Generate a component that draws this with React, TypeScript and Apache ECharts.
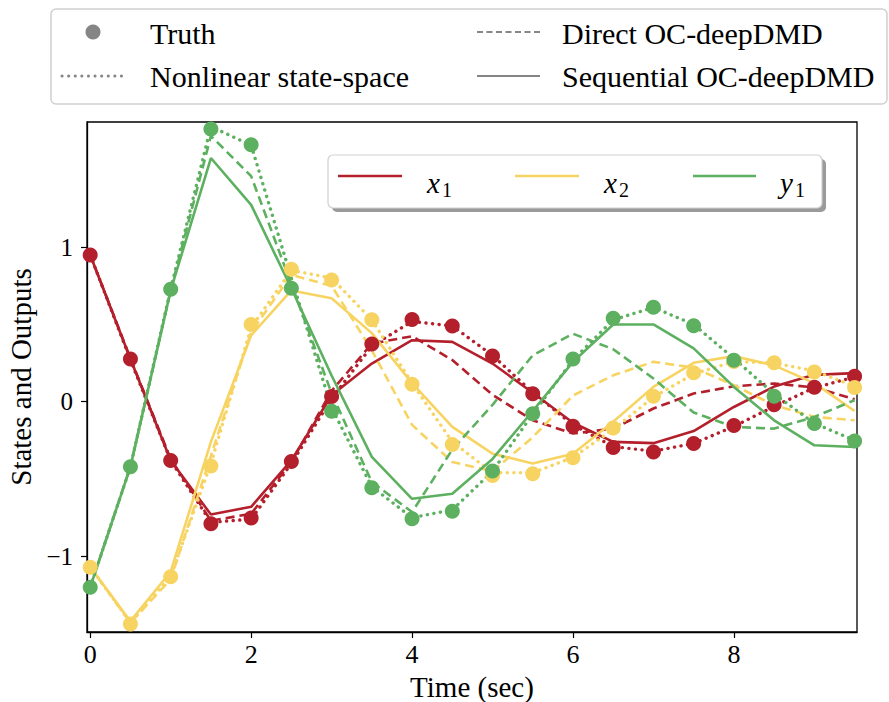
import React, { useEffect, useRef } from "react";
import * as echarts from "echarts";

const timeSec = [0, 0.5, 1, 1.5, 2, 2.5, 3, 3.5, 4, 4.5, 5, 5.5, 6, 6.5, 7, 7.5, 8, 8.5, 9, 9.5];

const x1Truth = [0.95, 0.276, -0.38, -0.79, -0.753, -0.386, 0.034, 0.373, 0.532, 0.49, 0.296, 0.052, -0.158, -0.296, -0.325, -0.271, -0.154, -0.02, 0.093, 0.165];
const x1Nonlinear = [0.95, 0.27, -0.38, -0.78, -0.76, -0.4, 0.02, 0.36, 0.52, 0.49, 0.3, 0.06, -0.15, -0.29, -0.32, -0.27, -0.16, -0.03, 0.09, 0.16];
const x1Direct = [0.95, 0.28, -0.37, -0.77, -0.725, -0.39, 0.07, 0.376, 0.424, 0.27, 0.045, -0.12, -0.206, -0.174, -0.044, 0.053, 0.1, 0.118, 0.092, 0.016];
const x1Sequential = [0.95, 0.276, -0.38, -0.73, -0.68, -0.38, 0.042, 0.247, 0.398, 0.387, 0.247, 0.058, -0.136, -0.26, -0.268, -0.19, -0.034, 0.098, 0.174, 0.185];

const x2Truth = [-1.071, -1.438, -1.132, -0.416, 0.5, 0.857, 0.788, 0.53, 0.113, -0.276, -0.477, -0.466, -0.362, -0.17, 0.036, 0.187, 0.26, 0.252, 0.193, 0.092];
const x2Nonlinear = [-1.07, -1.43, -1.13, -0.4, 0.48, 0.85, 0.8, 0.53, 0.12, -0.26, -0.46, -0.46, -0.36, -0.18, 0.03, 0.18, 0.26, 0.25, 0.2, 0.1];
const x2Direct = [-1.07, -1.43, -1.15, -0.35, 0.45, 0.82, 0.75, 0.333, -0.15, -0.39, -0.45, -0.23, 0.04, 0.171, 0.258, 0.22, 0.107, -0.023, -0.098, -0.12];
const x2Sequential = [-1.07, -1.42, -1.1, -0.26, 0.43, 0.72, 0.67, 0.444, 0.12, -0.163, -0.336, -0.4, -0.336, -0.13, 0.096, 0.252, 0.295, 0.235, 0.12, -0.06];

const y1Truth = [-1.2, -0.42, 0.728, 1.765, 1.663, 0.734, -0.062, -0.557, -0.757, -0.708, -0.449, -0.077, 0.276, 0.54, 0.611, 0.492, 0.269, 0.036, -0.141, -0.254];
const y1Nonlinear = [-1.2, -0.42, 0.73, 1.78, 1.66, 0.8, -0.04, -0.55, -0.75, -0.7, -0.45, -0.08, 0.27, 0.53, 0.61, 0.5, 0.28, 0.05, -0.14, -0.25];
const y1Direct = [-1.2, -0.42, 0.72, 1.72, 1.46, 0.76, 0.055, -0.52, -0.714, -0.31, -0.02, 0.3, 0.44, 0.34, 0.15, -0.07, -0.163, -0.174, -0.098, 0.01];
const y1Sequential = [-1.2, -0.42, 0.72, 1.577, 1.274, 0.734, 0.17, -0.357, -0.628, -0.595, -0.37, -0.06, 0.258, 0.5, 0.5, 0.345, 0.096, -0.12, -0.282, -0.293];

const xTicks = [0, 2, 4, 6, 8];
const yTicks = [-1, 0, 1];

const RED = "#b41f2c";
const YELLOW = "#f7d462";
const GREEN = "#5cb05f";
const GRAY = "#858585";
const SERIF = "'Liberation Serif', 'Times New Roman', serif";

const pair = (ys: number[]) => ys.map((v, i) => [timeSec[i], v]);

function lineSeries(name: string, ys: number[], color: string, kind: "solid" | "dashed" | "dotted") {
  const style: any = { color, width: 2.6 };
  if (kind === "dashed") style.type = [9, 5];
  if (kind === "dotted") {
    style.type = [0.1, 6.5];
    style.cap = "round";
    style.width = 3.4;
  }
  return {
    name,
    type: "line",
    data: pair(ys),
    symbol: "none",
    lineStyle: style,
    clip: true,
    z: 2,
  };
}

function truthSeries(name: string, ys: number[], color: string) {
  return {
    name,
    type: "scatter",
    data: pair(ys),
    symbol: "circle",
    symbolSize: 15,
    itemStyle: { color, opacity: 1 },
    clip: true,
    z: 3,
  };
}

export default function App() {
  const ref = useRef<HTMLDivElement>(null);
  useEffect(() => {
    if (!ref.current) return;
    const chart = echarts.init(ref.current, undefined, { renderer: "svg" });
    const textBase = { fontFamily: SERIF, fill: "#000" };
    const option: any = {
      animation: false,
      backgroundColor: "#fff",
      grid: {
        left: 87,
        top: 122,
        width: 770,
        height: 510,
        show: true,
        borderColor: "#000",
        borderWidth: 1.3,
        backgroundColor: "transparent",
        outerBoundsMode: "none",
        containLabel: false,
      },
      xAxis: {
        type: "value",
        min: -0.04,
        max: 9.53,
        axisLine: { onZero: false, lineStyle: { color: "#000", width: 1.3 } },
        axisTick: { customValues: xTicks, length: 6, lineStyle: { color: "#000", width: 1.2 } },
        axisLabel: {
          customValues: xTicks,
          color: "#000",
          fontSize: 26,
          fontFamily: SERIF,
          margin: 9,
        },
        splitLine: { show: false },
        name: "Time (sec)",
        nameLocation: "middle",
        nameGap: 40,
        nameTextStyle: { color: "#000", fontSize: 29, fontFamily: SERIF },
      },
      yAxis: {
        type: "value",
        min: -1.49,
        max: 1.81,
        axisLine: { onZero: false, lineStyle: { color: "#000", width: 1.3 } },
        axisTick: { customValues: yTicks, length: 6, lineStyle: { color: "#000", width: 1.2 } },
        axisLabel: {
          customValues: yTicks,
          color: "#000",
          fontSize: 25,
          fontFamily: SERIF,
          margin: 14,
          formatter: (v: number) => (v < 0 ? "\u2212" + Math.abs(v) : String(v)),
        },
        splitLine: { show: false },
        name: "States and Outputs",
        nameLocation: "middle",
        nameGap: 44,
        nameRotate: 90,
        nameTextStyle: { color: "#000", fontSize: 29, fontFamily: SERIF },
      },
      series: [
        lineSeries("x1 nonlinear", x1Nonlinear, RED, "dotted"),
        lineSeries("x1 direct", x1Direct, RED, "dashed"),
        lineSeries("x1 sequential", x1Sequential, RED, "solid"),
        lineSeries("x2 nonlinear", x2Nonlinear, YELLOW, "dotted"),
        lineSeries("x2 direct", x2Direct, YELLOW, "dashed"),
        lineSeries("x2 sequential", x2Sequential, YELLOW, "solid"),
        lineSeries("y1 nonlinear", y1Nonlinear, GREEN, "dotted"),
        lineSeries("y1 direct", y1Direct, GREEN, "dashed"),
        lineSeries("y1 sequential", y1Sequential, GREEN, "solid"),
        truthSeries("x1 truth", x1Truth, RED),
        truthSeries("x2 truth", x2Truth, YELLOW),
        truthSeries("y1 truth", y1Truth, GREEN),
      ],
      graphic: [
        // top legend
        {
          type: "rect",
          shape: { x: 51, y: 9, width: 836, height: 95, r: 5 },
          style: { fill: "#fff", stroke: "#d0d0d0", lineWidth: 1.5 },
          z: 10,
        },
        { type: "circle", shape: { cx: 93, cy: 32, r: 7.5 }, style: { fill: GRAY }, z: 11 },
        {
          type: "line",
          shape: { x1: 62, y1: 76, x2: 123, y2: 76 },
          style: { stroke: GRAY, lineWidth: 3, lineDash: [0.1, 6.5], lineCap: "round" },
          z: 11,
        },
        {
          type: "line",
          shape: { x1: 477, y1: 32, x2: 540, y2: 32 },
          style: { stroke: GRAY, lineWidth: 1.8, lineDash: [6, 3.5] },
          z: 11,
        },
        {
          type: "line",
          shape: { x1: 477, y1: 76, x2: 540, y2: 76 },
          style: { stroke: GRAY, lineWidth: 1.8 },
          z: 11,
        },
        { type: "text", x: 150, y: 33, style: { ...textBase, text: "Truth", fontSize: 30, verticalAlign: "middle" }, z: 11 },
        { type: "text", x: 150, y: 76, style: { ...textBase, text: "Nonlinear state-space", fontSize: 30, verticalAlign: "middle" }, z: 11 },
        { type: "text", x: 562, y: 33, style: { ...textBase, text: "Direct OC-deepDMD", fontSize: 30, verticalAlign: "middle" }, z: 11 },
        { type: "text", x: 562, y: 76, style: { ...textBase, text: "Sequential OC-deepDMD", fontSize: 30, verticalAlign: "middle" }, z: 11 },
        // inner legend
        {
          type: "rect",
          shape: { x: 332, y: 159, width: 494, height: 53, r: 5 },
          style: { fill: "#9a9a9a" },
          z: 10,
        },
        {
          type: "rect",
          shape: { x: 328, y: 155, width: 494, height: 53, r: 5 },
          style: { fill: "#fff", stroke: "#cfcfcf", lineWidth: 1.2 },
          z: 11,
        },
        { type: "line", shape: { x1: 338, y1: 176, x2: 402, y2: 176 }, style: { stroke: RED, lineWidth: 2.6 }, z: 12 },
        { type: "line", shape: { x1: 515, y1: 176, x2: 579, y2: 176 }, style: { stroke: YELLOW, lineWidth: 2.6 }, z: 12 },
        { type: "line", shape: { x1: 693, y1: 176, x2: 756, y2: 176 }, style: { stroke: GREEN, lineWidth: 2.6 }, z: 12 },
        { type: "text", x: 427, y: 183, style: { ...textBase, text: "x", fontSize: 29, fontStyle: "italic", verticalAlign: "middle" }, z: 12 },
        { type: "text", x: 442, y: 190, style: { ...textBase, text: "1", fontSize: 20, verticalAlign: "middle" }, z: 12 },
        { type: "text", x: 604, y: 183, style: { ...textBase, text: "x", fontSize: 29, fontStyle: "italic", verticalAlign: "middle" }, z: 12 },
        { type: "text", x: 619, y: 190, style: { ...textBase, text: "2", fontSize: 20, verticalAlign: "middle" }, z: 12 },
        { type: "text", x: 780, y: 183, style: { ...textBase, text: "y", fontSize: 29, fontStyle: "italic", verticalAlign: "middle" }, z: 12 },
        { type: "text", x: 795, y: 190, style: { ...textBase, text: "1", fontSize: 20, verticalAlign: "middle" }, z: 12 },
      ],
    };
    chart.setOption(option);
    return () => chart.dispose();
  }, []);
  return (
    <div
      ref={ref}
      style={{ position: "fixed", left: 0, top: 0, width: 889, height: 702, background: "#fff" }}
    />
  );
}
